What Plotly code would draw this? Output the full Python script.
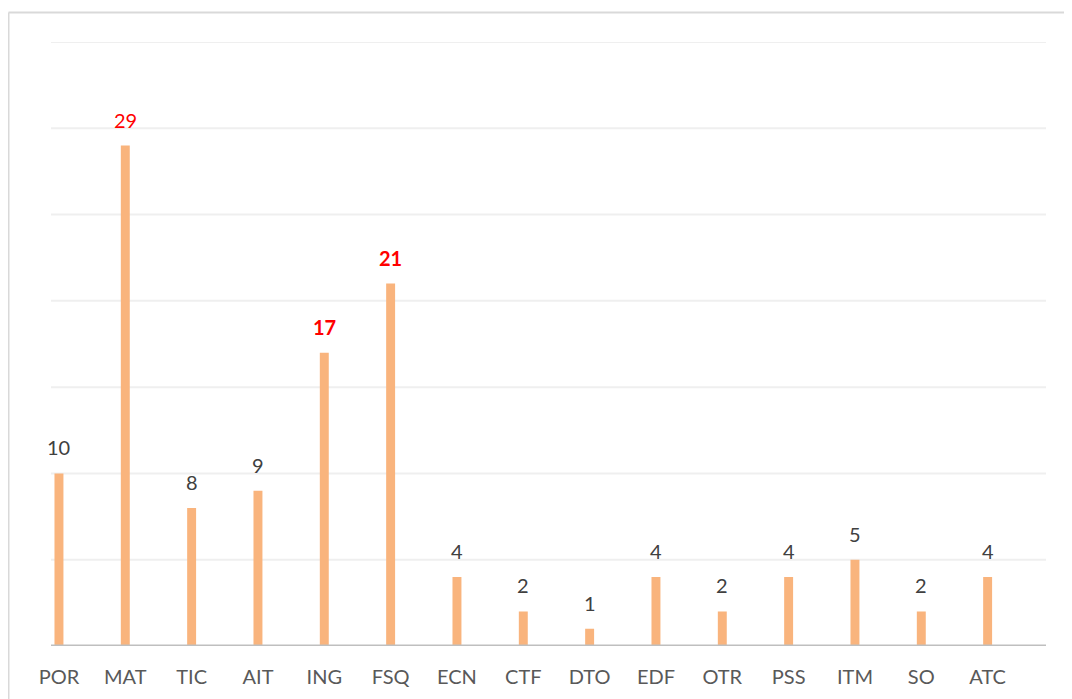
import plotly.graph_objects as go

categories = ["POR", "MAT", "TIC", "AIT", "ING", "FSQ", "ECN", "CTF", "DTO", "EDF", "OTR", "PSS", "ITM", "SO", "ATC"]
values = [10, 29, 8, 9, 17, 21, 4, 2, 1, 4, 2, 4, 5, 2, 4]
highlight = {"MAT": ("red", False), "ING": ("red", True), "FSQ": ("red", True)}
grid_values = [5, 10, 15, 20, 25, 30, 35]

OFF = 8  # page body margin
W, H = 1072 - OFF, 699 - OFF
L, R, T, B = 51 - OFF, 26, 42 - OFF, 53
pw = W - L - R
ph = H - T - B

fig = go.Figure()

for g in grid_values:
    fig.add_shape(type="line", xref="paper", yref="y", x0=0, x1=1, y0=g, y1=g,
                  line=dict(color="#EFEFEF", width=2), layer="below")

fig.add_trace(go.Bar(
    x=list(range(len(categories))), y=values,
    width=0.135, marker=dict(color="#F9B47D", line=dict(width=0)),
    hoverinfo="skip",
))

for i, (c, v) in enumerate(zip(categories, values)):
    col, bold = highlight.get(c, ("#404040", False))
    txt = f"<b>{v}</b>" if bold else str(v)
    fig.add_annotation(x=i, y=v, text=txt, showarrow=False, yanchor="bottom",
                       yshift=12, font=dict(family="Lato", size=20, color=col))

# outer chart border (left and top visible)
bx = (8.5 - OFF - L) / pw
by = 1 + (T - (12.5 - OFF)) / ph
fig.add_shape(type="line", xref="paper", yref="paper", x0=bx, x1=bx, y0=-0.5, y1=by,
              line=dict(color="#D9D9D9", width=2))
fig.add_shape(type="line", xref="paper", yref="paper", x0=bx, x1=1.5, y0=by, y1=by,
              line=dict(color="#D9D9D9", width=2))

fig.update_layout(
    width=W, height=H,
    margin=dict(l=L, r=R, t=T, b=B, pad=0),
    paper_bgcolor="white", plot_bgcolor="white",
    showlegend=False,
    xaxis=dict(range=[-0.12, 14.88], tickmode="array", tickvals=list(range(len(categories))),
               ticktext=categories, showgrid=False, zeroline=False, showline=False,
               ticks="", ticklen=0, ticklabelstandoff=17,
               tickfont=dict(family="Lato", size=20, color="#595959")),
    yaxis=dict(range=[0, 35], showgrid=False,
               showticklabels=False, zeroline=False, showline=False, ticks=""),
)
fig.add_shape(type="line", xref="paper", yref="y", x0=0, x1=1, y0=0, y1=0,
              line=dict(color="#BFBFBF", width=3))

fig.write_html("out.html")
